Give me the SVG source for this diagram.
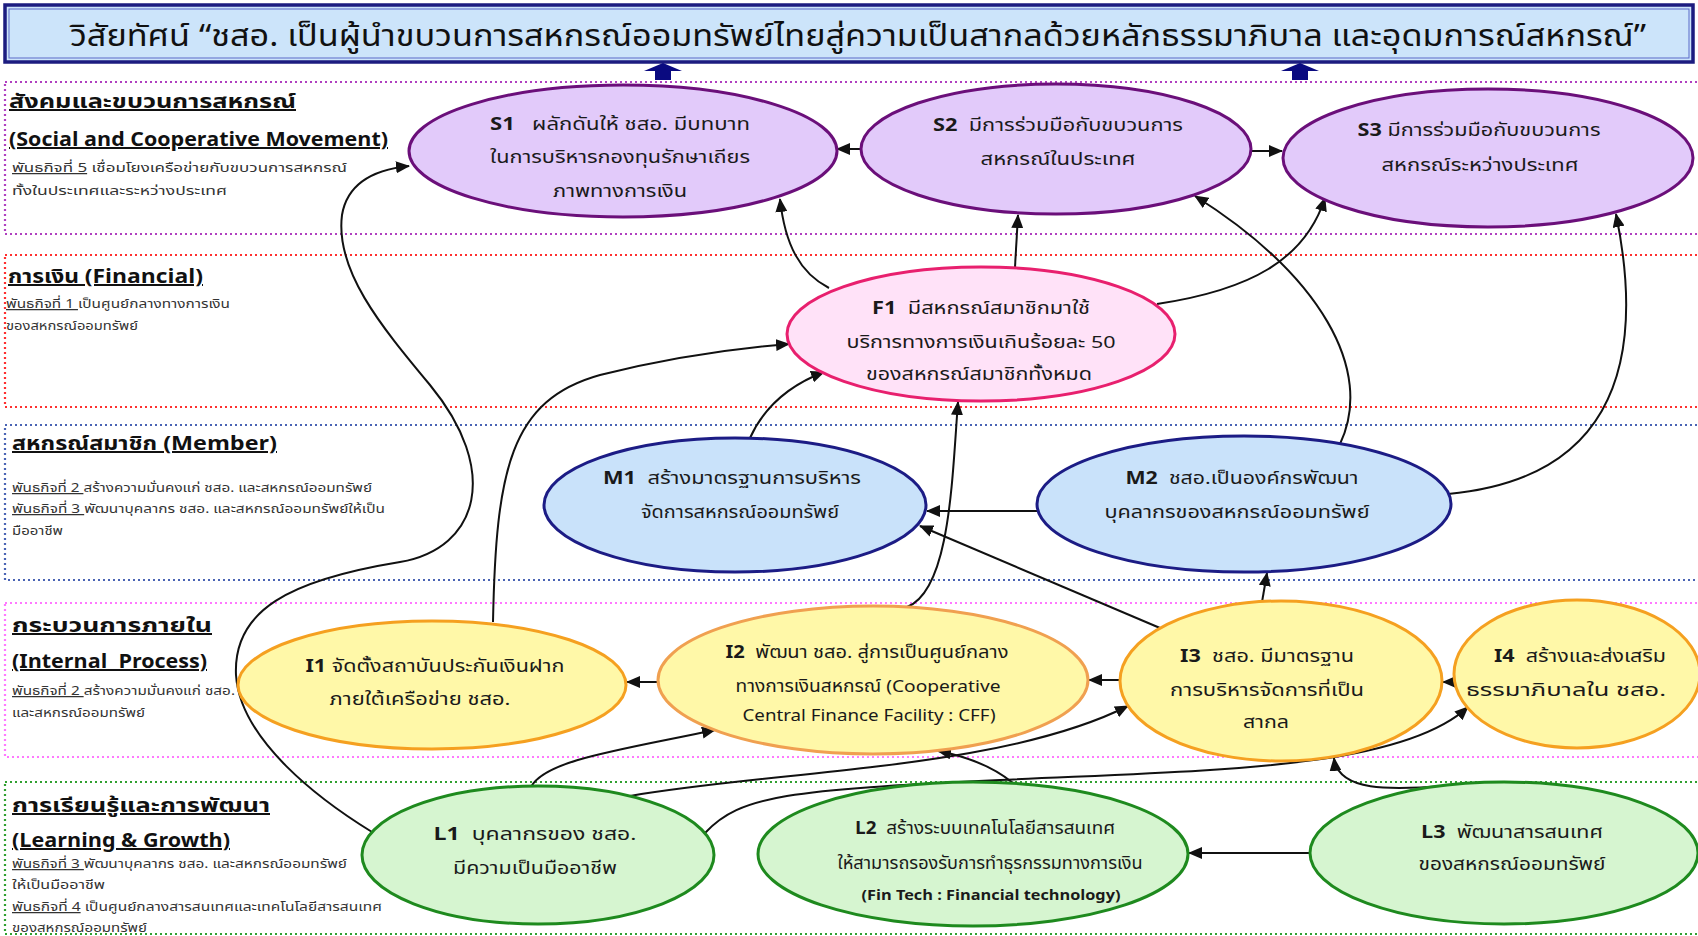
<svg xmlns="http://www.w3.org/2000/svg" width="1698" height="936" viewBox="0 0 1698 936">
<defs>
<style>
.t{font-family:"Noto Sans Thai","Liberation Sans","DejaVu Sans",sans-serif;fill:#1a1a1a}
.title{font-size:30px;fill:#111}
.hd{font-size:20px;font-weight:bold;text-decoration:underline;fill:#111}
.ds{font-size:12.5px;fill:#333}
.u{text-decoration:underline}
.nl{font-size:17px;text-anchor:middle}
.b{font-weight:bold}
.band{fill:none;stroke-width:2.2;stroke-dasharray:2 3}
.sN{fill:#e2cafa;stroke:#6b0f7a;stroke-width:3}
.fN{fill:#ffe2f8;stroke:#e8206e;stroke-width:3}
.mN{fill:#c9e2fa;stroke:#1c1c85;stroke-width:3}
.iN{fill:#fff8a8;stroke:#f5a020;stroke-width:3}
.lN{fill:#d6f5d0;stroke:#1e8a1e;stroke-width:3}
.c{fill:none;stroke:#111;stroke-width:2;marker-end:url(#ah)}
</style>
<marker id="ah" markerUnits="userSpaceOnUse" markerWidth="14" markerHeight="12" refX="13" refY="6" orient="auto">
<path d="M0,0 L14,6 L0,12 z" fill="#111"/>
</marker>
</defs>
<rect width="1698" height="936" fill="#ffffff"/>

<g id="title">
<rect x="5" y="5" width="1688" height="57" fill="#cce4fa" stroke="#1c1c80" stroke-width="3.5"/>
<rect x="9" y="9" width="1680" height="49" fill="none" stroke="#5a6ac8" stroke-width="1"/>
<text class="t title" x="70" y="46" textLength="1576" lengthAdjust="spacingAndGlyphs">วิสัยทัศน์ “ชสอ. เป็นผู้นำขบวนการสหกรณ์ออมทรัพย์ไทยสู่ความเป็นสากลด้วยหลักธรรมาภิบาล และอุดมการณ์สหกรณ์”</text>
</g>

<g id="up-arrows" fill="#0a0a80">
<polygon points="663,63 682,71 671,71 671,80 655,80 655,71 644,71"/>
<polygon points="1300,63 1319,71 1308,71 1308,80 1292,80 1292,71 1281,71"/>
</g>

<g id="bands">
<rect class="band" x="5" y="82" width="1710" height="152" stroke="#b040c0"/>
<rect class="band" x="5" y="255" width="1710" height="152" stroke="#ff3030"/>
<rect class="band" x="5" y="425" width="1710" height="155" stroke="#4a64b4"/>
<rect class="band" x="5" y="603" width="1710" height="154" stroke="#ff78ff"/>
<rect class="band" x="5" y="782" width="1710" height="152" stroke="#30a030"/>
</g>

<g id="band-labels">
<text class="t hd" x="9" y="108" textLength="287" lengthAdjust="spacingAndGlyphs">สังคมและขบวนการสหกรณ์</text>
<text class="t hd" x="9" y="146" textLength="379" lengthAdjust="spacingAndGlyphs">(Social and Cooperative Movement)</text>
<text class="t ds" x="12" y="172" textLength="335" lengthAdjust="spacingAndGlyphs"><tspan class="u">พันธกิจที่ 5</tspan> เชื่อมโยงเครือข่ายกับขบวนการสหกรณ์</text>
<text class="t ds" x="12" y="195" textLength="215" lengthAdjust="spacingAndGlyphs">ทั้งในประเทศและระหว่างประเทศ</text>

<text class="t hd" x="8" y="283" textLength="195" lengthAdjust="spacingAndGlyphs">การเงิน (Financial)</text>
<text class="t ds" x="6" y="308" textLength="224" lengthAdjust="spacingAndGlyphs"><tspan class="u">พันธกิจที่ 1 </tspan>เป็นศูนย์กลางทางการเงิน</text>
<text class="t ds" x="6" y="330" textLength="132" lengthAdjust="spacingAndGlyphs">ของสหกรณ์ออมทรัพย์</text>

<text class="t hd" x="12" y="450" textLength="265" lengthAdjust="spacingAndGlyphs">สหกรณ์สมาชิก (Member)</text>
<text class="t ds" x="12" y="492" textLength="360" lengthAdjust="spacingAndGlyphs"><tspan class="u">พันธกิจที่ 2 </tspan>สร้างความมั่นคงแก่ ชสอ. และสหกรณ์ออมทรัพย์</text>
<text class="t ds" x="12" y="513" textLength="373" lengthAdjust="spacingAndGlyphs"><tspan class="u">พันธกิจที่ 3 </tspan>พัฒนาบุคลากร ชสอ. และสหกรณ์ออมทรัพย์ให้เป็น</text>
<text class="t ds" x="12" y="535" textLength="51" lengthAdjust="spacingAndGlyphs">มืออาชีพ</text>

<text class="t hd" x="12" y="632" textLength="200" lengthAdjust="spacingAndGlyphs">กระบวนการภายใน</text>
<text class="t hd" x="12" y="668" textLength="195" lengthAdjust="spacingAndGlyphs" xml:space="preserve">(Internal  Process)</text>
<text class="t ds" x="12" y="695" textLength="223" lengthAdjust="spacingAndGlyphs"><tspan class="u">พันธกิจที่ 2 </tspan>สร้างความมั่นคงแก่ ชสอ.</text>
<text class="t ds" x="12" y="717" textLength="133" lengthAdjust="spacingAndGlyphs">และสหกรณ์ออมทรัพย์</text>

<text class="t hd" x="12" y="812" textLength="258" lengthAdjust="spacingAndGlyphs">การเรียนรู้และการพัฒนา</text>
<text class="t hd" x="12" y="847" textLength="218" lengthAdjust="spacingAndGlyphs">(Learning &amp; Growth)</text>
<text class="t ds" x="12" y="868" textLength="335" lengthAdjust="spacingAndGlyphs"><tspan class="u">พันธกิจที่ 3 </tspan>พัฒนาบุคลากร ชสอ. และสหกรณ์ออมทรัพย์</text>
<text class="t ds" x="12" y="889" textLength="93" lengthAdjust="spacingAndGlyphs">ให้เป็นมืออาชีพ</text>
<text class="t ds" x="12" y="911" textLength="370" lengthAdjust="spacingAndGlyphs"><tspan class="u">พันธกิจที่ 4</tspan> เป็นศูนย์กลางสารสนเทศและเทคโนโลยีสารสนเทศ</text>
<text class="t ds" x="12" y="932" textLength="135" lengthAdjust="spacingAndGlyphs">ของสหกรณ์ออมทรัพย์</text>
</g>

<g id="connectors">
<path class="c" d="M861,149 L837,149"/>
<path class="c" d="M1251,151 L1282,151"/>
<path class="c" d="M829,288 C800,273 785,245 780,199"/>
<path class="c" d="M1015,267 L1018,215"/>
<path class="c" d="M1157,304 C1250,290 1305,260 1325,198"/>
<path class="c" d="M1340,444 C1375,370 1320,275 1195,196"/>
<path class="c" d="M1448,494 C1600,480 1650,380 1616,214"/>
<path class="c" d="M750,438 C765,405 790,385 824,372"/>
<path class="c" d="M493,622 C496,470 510,400 600,375 C680,355 740,348 789,344"/>
<path class="c" d="M372,832 C320,800 240,740 236,675 C233,610 290,580 400,562 C480,548 500,470 430,385 C380,325 335,270 342,215 C347,185 370,170 409,166"/>
<path class="c" d="M657,682 L627,682"/>
<path class="c" d="M1120,680 L1089,680"/>
<path class="c" d="M1456,682 L1443,682"/>
<path class="c" d="M1262,602 L1267,573"/>
<path class="c" d="M1160,628 L920,526"/>
<path class="c" d="M1037,511 L927,511"/>
<path class="c" d="M907,607 C950,590 952,480 958,402"/>
<path class="c" d="M531,787 C545,760 620,750 715,730"/>
<path class="c" d="M630,796 C780,770 1000,770 1128,706"/>
<path class="c" d="M705,833 C740,795 790,790 1000,780 S1400,770 1468,707"/>
<path class="c" d="M1013,783 Q985,760 938,751"/>
<path class="c" d="M1446,786 C1390,790 1338,792 1334,758"/>
<path class="c" d="M1310,853 L1189,853"/>
</g>

<g id="S1"><ellipse class="sN" cx="623" cy="151" rx="214" ry="66"/>
<text class="t nl" x="620" y="130" textLength="260" lengthAdjust="spacingAndGlyphs" xml:space="preserve"><tspan class="b">S1</tspan>   ผลักดันให้ ชสอ. มีบทบาท</text>
<text class="t nl" x="620" y="163" textLength="260" lengthAdjust="spacingAndGlyphs">ในการบริหารกองทุนรักษาเถียร</text>
<text class="t nl" x="620" y="197" textLength="134" lengthAdjust="spacingAndGlyphs">ภาพทางการเงิน</text></g>

<g id="S2"><ellipse class="sN" cx="1056" cy="149" rx="195" ry="65"/>
<text class="t nl" x="1058" y="131" textLength="250" lengthAdjust="spacingAndGlyphs" xml:space="preserve"><tspan class="b">S2</tspan>  มีการร่วมมือกับขบวนการ</text>
<text class="t nl" x="1058" y="165" textLength="155" lengthAdjust="spacingAndGlyphs">สหกรณ์ในประเทศ</text></g>

<g id="S3"><ellipse class="sN" cx="1488" cy="158" rx="205" ry="69"/>
<text class="t nl" x="1479" y="136" textLength="243" lengthAdjust="spacingAndGlyphs"><tspan class="b">S3</tspan> มีการร่วมมือกับขบวนการ</text>
<text class="t nl" x="1480" y="171" textLength="197" lengthAdjust="spacingAndGlyphs">สหกรณ์ระหว่างประเทศ</text></g>

<g id="F1"><ellipse class="fN" cx="981" cy="334" rx="194" ry="67"/>
<text class="t nl" x="981" y="314" textLength="218" lengthAdjust="spacingAndGlyphs" xml:space="preserve"><tspan class="b">F1</tspan>  มีสหกรณ์สมาชิกมาใช้</text>
<text class="t nl" x="981" y="348" textLength="269" lengthAdjust="spacingAndGlyphs">บริการทางการเงินเกินร้อยละ 50</text>
<text class="t nl" x="979" y="380" textLength="226" lengthAdjust="spacingAndGlyphs">ของสหกรณ์สมาชิกทั้งหมด</text></g>

<g id="M1"><ellipse class="mN" cx="735" cy="505" rx="191" ry="67"/>
<text class="t nl" x="732" y="484" textLength="258" lengthAdjust="spacingAndGlyphs" xml:space="preserve"><tspan class="b">M1</tspan>  สร้างมาตรฐานการบริหาร</text>
<text class="t nl" x="740" y="518" textLength="198" lengthAdjust="spacingAndGlyphs">จัดการสหกรณ์ออมทรัพย์</text></g>

<g id="M2"><ellipse class="mN" cx="1244" cy="504" rx="207" ry="68"/>
<text class="t nl" x="1242" y="484" textLength="233" lengthAdjust="spacingAndGlyphs" xml:space="preserve"><tspan class="b">M2</tspan>  ชสอ.เป็นองค์กรพัฒนา</text>
<text class="t nl" x="1237" y="518" textLength="265" lengthAdjust="spacingAndGlyphs">บุคลากรของสหกรณ์ออมทรัพย์</text></g>

<g id="I1"><ellipse class="iN" cx="432" cy="685" rx="194" ry="64"/>
<text class="t nl" x="435" y="672" textLength="259" lengthAdjust="spacingAndGlyphs"><tspan class="b">I1</tspan> จัดตั้งสถาบันประกันเงินฝาก</text>
<text class="t nl" x="420" y="705" textLength="181" lengthAdjust="spacingAndGlyphs">ภายใต้เครือข่าย ชสอ.</text></g>

<g id="I2"><ellipse class="iN" cx="873" cy="680" rx="215" ry="74" style="stroke:#f0a050"/>
<text class="t nl" x="867" y="658" textLength="283" lengthAdjust="spacingAndGlyphs" xml:space="preserve"><tspan class="b">I2</tspan>  พัฒนา ชสอ. สู่การเป็นศูนย์กลาง</text>
<text class="t nl" x="868" y="692" textLength="265" lengthAdjust="spacingAndGlyphs">ทางการเงินสหกรณ์ (Cooperative</text>
<text class="t nl" x="869" y="721" textLength="253" lengthAdjust="spacingAndGlyphs">Central Finance Facility : CFF)</text></g>

<g id="I3"><ellipse class="iN" cx="1281" cy="681" rx="161" ry="80"/>
<text class="t nl" x="1267" y="662" textLength="174" lengthAdjust="spacingAndGlyphs" xml:space="preserve"><tspan class="b">I3</tspan>  ชสอ. มีมาตรฐาน</text>
<text class="t nl" x="1267" y="696" textLength="194" lengthAdjust="spacingAndGlyphs">การบริหารจัดการที่เป็น</text>
<text class="t nl" x="1266" y="728" textLength="46" lengthAdjust="spacingAndGlyphs">สากล</text></g>

<g id="I4"><ellipse class="iN" cx="1577" cy="674" rx="123" ry="74"/>
<text class="t nl" x="1580" y="662" textLength="172" lengthAdjust="spacingAndGlyphs" xml:space="preserve"><tspan class="b">I4</tspan>  สร้างและส่งเสริม</text>
<text class="t nl" x="1566" y="696" textLength="200" lengthAdjust="spacingAndGlyphs">ธรรมาภิบาลใน ชสอ.</text></g>

<g id="L1"><ellipse class="lN" cx="538" cy="855" rx="176" ry="69"/>
<text class="t nl" x="535" y="840" textLength="203" lengthAdjust="spacingAndGlyphs" xml:space="preserve"><tspan class="b">L1</tspan>  บุคลากรของ ชสอ.</text>
<text class="t nl" x="535" y="874" textLength="164" lengthAdjust="spacingAndGlyphs">มีความเป็นมืออาชีพ</text></g>

<g id="L2"><ellipse class="lN" cx="973" cy="854" rx="215" ry="72"/>
<text class="t nl" x="985" y="834" textLength="260" lengthAdjust="spacingAndGlyphs" xml:space="preserve"><tspan class="b">L2</tspan>  สร้างระบบเทคโนโลยีสารสนเทศ</text>
<text class="t nl" x="990" y="869" textLength="305" lengthAdjust="spacingAndGlyphs">ให้สามารถรองรับการทำธุรกรรมทางการเงิน</text>
<text class="t nl b" x="991" y="900" textLength="259" lengthAdjust="spacingAndGlyphs" style="font-size:15px">(Fin Tech : Financial technology)</text></g>

<g id="L3"><ellipse class="lN" cx="1504" cy="853" rx="194" ry="71"/>
<text class="t nl" x="1512" y="838" textLength="182" lengthAdjust="spacingAndGlyphs" xml:space="preserve"><tspan class="b">L3</tspan>  พัฒนาสารสนเทศ</text>
<text class="t nl" x="1512" y="870" textLength="187" lengthAdjust="spacingAndGlyphs">ของสหกรณ์ออมทรัพย์</text></g>
</svg>
